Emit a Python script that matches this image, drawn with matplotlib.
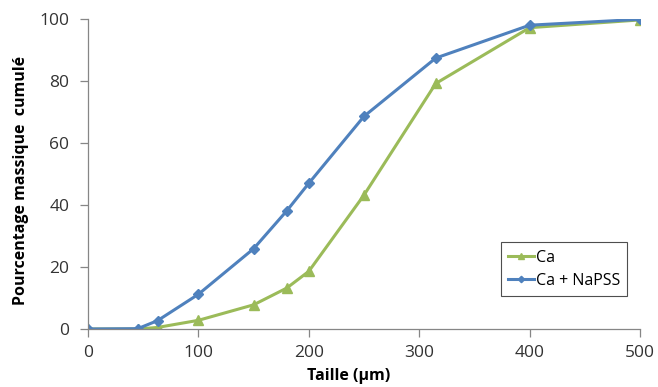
import matplotlib.pyplot as plt

taille = [0, 45, 63, 100, 150, 180, 200, 250, 315, 400, 500]
ca = [0, 0, 0.5, 2.8, 7.8, 13.2, 18.6, 43.2, 79.2, 97.2, 99.7]
ca_napss = [0, 0.1, 2.7, 11.2, 25.9, 38.1, 47.0, 68.6, 87.4, 98.0, 99.9]

plt.rcParams['font.family'] = ['Open Sans', 'DejaVu Sans']


def main():
    fig = plt.figure(figsize=(6.58, 3.87), dpi=100)
    ax = fig.add_axes([88 / 658, 1 - 329 / 387, (640 - 88) / 658, (329 - 19) / 387])

    ax.plot(taille, ca, color='#9BBB59', lw=2.2, marker='^', ms=6.5, label='Ca')
    ax.plot(taille, ca_napss, color='#4F81BD', lw=2.2, marker='D', ms=5,
            label='Ca + NaPSS')

    ax.set_xlim(0, 500)
    ax.set_ylim(0, 100)
    ax.set_xticks(range(0, 501, 100))
    ax.set_yticks(range(0, 101, 20))
    for side in ['top', 'right']:
        ax.spines[side].set_visible(False)
    for side in ['left', 'bottom']:
        ax.spines[side].set_color('#868686')
        ax.spines[side].set_linewidth(0.9)
    ax.tick_params(colors='#868686', labelcolor='#333333', labelsize=12.5,
                   length=5.5, width=0.9)
    ax.tick_params(axis='x', pad=6)
    ax.tick_params(axis='y', pad=8)

    ax.set_xlabel('Taille (µm)', fontsize=11.5, fontweight='bold')
    ax.xaxis.set_label_coords((349 - 88) / (640 - 88), -(368 - 329) / (329 - 19))
    ax.set_ylabel('Pourcentage massique  cumulé', fontsize=11.5,
                  fontweight='bold')
    ax.yaxis.set_label_coords(-(88 - 29) / (640 - 88), 0.48)
    for sp in ax.spines.values():
        sp.set_clip_on(False)

    leg = ax.legend(loc='lower right', bbox_to_anchor=(627 / 658, 1 - 296 / 387),
                    bbox_transform=fig.transFigure, fontsize=11.5,
                    frameon=True, fancybox=False, handlelength=1.6,
                    handletextpad=0.1, borderpad=0.45, labelspacing=0.45,
                    borderaxespad=0, markerscale=0.65)
    leg.get_frame().set_edgecolor('#222222')
    leg.get_frame().set_linewidth(0.8)

    fig.savefig('out.png', dpi=100)


if __name__ == "__main__":
    main()
